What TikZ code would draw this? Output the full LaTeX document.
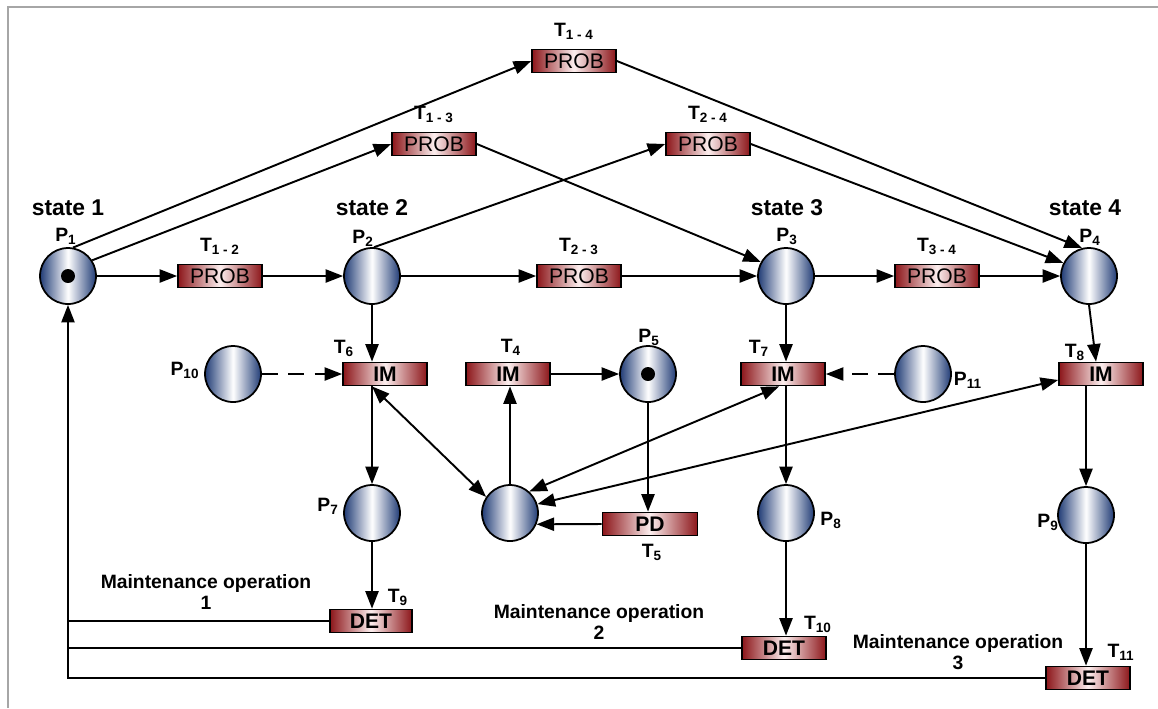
\documentclass[tikz,border=0pt]{standalone}
\usepackage{fontspec}
\setmainfont{Liberation Sans}
\usetikzlibrary{arrows.meta}
\definecolor{placeblue}{RGB}{33,60,118}
\definecolor{transred}{RGB}{140,22,26}
\definecolor{transpale}{RGB}{252,238,238}

\begin{document}
\begin{tikzpicture}[x=0.02cm, y=-0.02cm,
  >={Triangle[length=10pt,width=7.5pt]},
  arc/.style={line width=1.1pt, ->},
  place/.style={circle, draw=black, line width=1pt, minimum size=1.12cm,
    inner sep=0pt, left color=placeblue, right color=placeblue, middle color=white},
  trans/.style={draw=black, line width=1pt, minimum width=1.68cm, minimum height=0.46cm,
    inner sep=0pt, left color=transred, right color=transred, middle color=transpale,
    font=\fontsize{12}{13}\selectfont},
  imtrans/.style={trans, font=\bfseries\fontsize{12}{13}\selectfont},
  token/.style={circle, fill=black, minimum size=0.28cm, inner sep=0pt},
  plab/.style={font=\bfseries\fontsize{11}{13}\selectfont},
  stlab/.style={font=\bfseries\fontsize{13}{15}\selectfont},
  mlab/.style={font=\bfseries\fontsize{11}{12}\selectfont, align=center}]
\useasboundingbox (0,0) rectangle (1158,708);
\draw[gray!70, line width=1.2pt] (8,708) -- (8,7) -- (1158,7);

% places
\node[place] (p1) at (68,276) {};
\node[token] (tok1) at (p1) {};
\node[place] (p2) at (372,276) {};
\node[place] (p3) at (786,276) {};
\node[place] (p4) at (1089,276) {};
\node[place] (p5) at (648,374) {};
\node[token] (tok5) at (p5) {};
\node[place] (pm) at (510,513) {};
\node[place] (p7) at (372,513) {};
\node[place] (p8) at (786,513) {};
\node[place] (p9) at (1086,515) {};
\node[place] (p10) at (233,374) {};
\node[place] (p11) at (923,374) {};

% transitions
\node[trans] (t12) at (220,276) {PROB};
\node[trans] (t23) at (579,276) {PROB};
\node[trans] (t34) at (937,276) {PROB};
\node[trans] (t13) at (434,144) {PROB};
\node[trans] (t24) at (708,144) {PROB};
\node[trans] (t14) at (574,61) {PROB};
\node[imtrans] (t4) at (508,374) {IM};
\node[imtrans, minimum width=1.9cm] (t5) at (650,524) {PD};
\node[imtrans] (t6) at (385,374) {IM};
\node[imtrans] (t7) at (783,374) {IM};
\node[imtrans] (t8) at (1101,374) {IM};
\node[imtrans, minimum width=1.64cm] (t9) at (371,621) {DET};
\node[imtrans] (t10) at (784,648) {DET};
\node[imtrans] (t11) at (1088,678) {DET};

% labels
\node[stlab] (s1) at (68,208) {state 1};
\node[stlab] (s2) at (372,208) {state 2};
\node[stlab] (s3) at (787,208) {state 3};
\node[stlab] (s4) at (1085,208) {state 4};
\node[plab] (lp1) at (66,236) {P\textsubscript{1}};
\node[plab] (lp2) at (363,238) {P\textsubscript{2}};
\node[plab] (lp3) at (787,236) {P\textsubscript{3}};
\node[plab] (lp4) at (1090,237) {P\textsubscript{4}};
\node[plab] (lp5) at (649,337) {P\textsubscript{5}};
\node[plab] (lp7) at (328,506) {P\textsubscript{7}};
\node[plab] (lp8) at (831,520) {P\textsubscript{8}};
\node[plab] (lp9) at (1048,522) {P\textsubscript{9}};
\node[plab] (lp10) at (185,370) {P\textsubscript{10}};
\node[plab] (lp11) at (968,380) {P\textsubscript{11}};
\node[plab] (lt12) at (220,246) {T\textsubscript{1 - 2}};
\node[plab] (lt23) at (579,246) {T\textsubscript{2 - 3}};
\node[plab] (lt34) at (937,246) {T\textsubscript{3 - 4}};
\node[plab] (lt13) at (434,114) {T\textsubscript{1 - 3}};
\node[plab] (lt24) at (708,114) {T\textsubscript{2 - 4}};
\node[plab] (lt14) at (574,31) {T\textsubscript{1 - 4}};
\node[plab] (lt4) at (511,347) {T\textsubscript{4}};
\node[plab] (lt5) at (652,552) {T\textsubscript{5}};
\node[plab] (lt6) at (344,348) {T\textsubscript{6}};
\node[plab] (lt7) at (759,348) {T\textsubscript{7}};
\node[plab] (lt8) at (1075,352) {T\textsubscript{8}};
\node[plab] (lt9) at (398,597) {T\textsubscript{9}};
\node[plab] (lt10) at (818,624) {T\textsubscript{10}};
\node[plab] (lt11) at (1121,652) {T\textsubscript{11}};
\node[mlab] (m1) at (206,592) {Maintenance operation\\1};
\node[mlab] (m2) at (599,622) {Maintenance operation\\2};
\node[mlab] (m3) at (958,652) {Maintenance operation\\3};

% arcs between states
\draw[arc] (p1) -- (t12);
\draw[arc] (t12) -- (p2);
\draw[arc] (p2) -- (t23);
\draw[arc] (t23) -- (p3);
\draw[arc] (p3) -- (t34);
\draw[arc] (t34) -- (p4);
\draw[arc] (p1.80) -- (t14.west);
\draw[arc] (p1.33) -- (t13.west);
\draw[arc] (t13.east) -- (p3.151);
\draw[arc] (p2.86) -- (t24.west);
\draw[arc] (t24.east) -- (p4.153);
\draw[arc] (t14.east) -- (p4.104);

% maintenance part
\draw[arc] (p2) -- (p2 |- t6.north);
\draw[arc] (p7 |- t6.south) -- (p7);
\draw[arc] (p7) -- (p7 |- t9.north);
\draw[arc, dashed, dash pattern=on 9pt off 6pt] (p10) -- (t6.west);
\draw[arc, <->] (t6.south -| p2) -- (pm.146);
\draw[arc] (pm) -- (pm |- t4.south);
\draw[arc] (t4) -- (p5);
\draw[arc] (p5) -- (p5 |- t5.north);
\draw[arc] (t5.west) -- (pm.-23);
\draw[arc, <->] (pm.48) -- ([xshift=-0.08cm]t7.south);
\draw[arc, <->] (pm.18) -- ([yshift=-0.12cm]t8.west);
\draw[arc] (p3) -- (p3 |- t7.north);
\draw[arc] (p8 |- t7.south) -- (p8);
\draw[arc] (p8) -- (p8 |- t10.north);
\draw[arc, dashed, dash pattern=on 9pt off 6pt] (p11) -- (t7.east);
\draw[arc] (p4.south) -- ([xshift=-0.1cm]t8.north);
\draw[arc] (p9 |- t8.south) -- (p9);
\draw[arc] (p9) -- (p9 |- t11.north);

% return to state 1
\draw[line width=1.1pt] (t9.west) -- (t9.west -| p1);
\draw[line width=1.1pt] (t10.west) -- (t10.west -| p1);
\draw[arc] (t11.west) -- (t11.west -| p1) -- (p1);
\end{tikzpicture}
\end{document}
